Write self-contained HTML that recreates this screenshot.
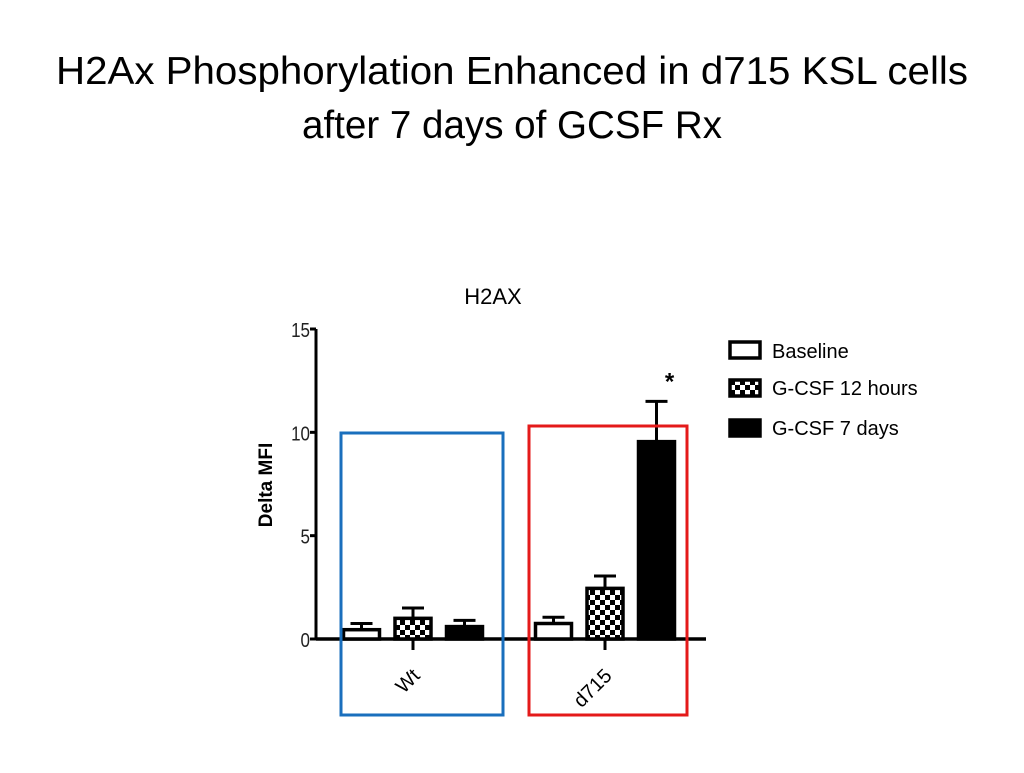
<!DOCTYPE html>
<html><head><meta charset="utf-8"><style>
body{margin:0;background:#fff;}
svg text{font-family:"Liberation Sans",Arial,sans-serif;}
</style></head><body>
<svg width="1024" height="768" viewBox="0 0 1024 768" xmlns="http://www.w3.org/2000/svg">
<defs>
<pattern id="chk" width="10" height="10" patternUnits="userSpaceOnUse">
<rect width="10" height="10" fill="#fff"/><rect width="5" height="5" fill="#000"/><rect x="5" y="5" width="5" height="5" fill="#000"/>
</pattern>
</defs>
<text x="512" y="84" font-size="39" text-anchor="middle" fill="#000" textLength="912" lengthAdjust="spacingAndGlyphs">H2Ax Phosphorylation Enhanced in d715 KSL cells</text>
<text x="512" y="138" font-size="39" text-anchor="middle" fill="#000" textLength="420" lengthAdjust="spacingAndGlyphs">after 7 days of GCSF Rx</text>
<text x="493" y="304" font-size="22" text-anchor="middle">H2AX</text>
<text transform="translate(272,485) rotate(-90)" font-size="19" font-weight="bold" text-anchor="middle">Delta MFI</text>
<g id="axes"></g>
<g id="bars"></g>
<rect x="341" y="433" width="162" height="282" fill="none" stroke="#1a6fbd" stroke-width="3"/>
<rect x="529" y="426" width="158" height="289" fill="none" stroke="#e41a1a" stroke-width="3"/>
<g>
<rect x="730" y="342" width="30" height="16" fill="#fff" stroke="#000" stroke-width="3.5"/>
<text x="772" y="358" font-size="20">Baseline</text>
<rect x="730" y="380" width="30" height="16" fill="url(#chk)" stroke="#000" stroke-width="3.5"/>
<text x="772" y="395" font-size="20">G-CSF 12 hours</text>
<rect x="730" y="420" width="30" height="16" fill="#000" stroke="#000" stroke-width="3.5"/>
<text x="772" y="435" font-size="20">G-CSF 7 days</text>
</g>
</svg>
<script>
const groups = ["Wt", "d715"];
const series = ["Baseline", "G-CSF 12 hours", "G-CSF 7 days"];
const baseline = [0.45, 0.75];
const h12 = [1.0, 2.45];
const d7 = [0.6, 9.55];
const baselineErr = [0.3, 0.3];
const h12Err = [0.5, 0.6];
const d7Err = [0.3, 1.95];
const yTicks = [0, 5, 10, 15];
const sig = ["", "*"];

const NS = "http://www.w3.org/2000/svg";
const X0 = 316, X1 = 706, Y0 = 639, YTOP = 329, YMAX = 15;
const y = v => Y0 - (v / YMAX) * (Y0 - YTOP);
const groupCenter = i => 413 + i * 192;
const barW = 36, barStep = 51.5;
const barX = (g, s) => groupCenter(g) + (s - 1) * barStep - barW / 2;
const fills = ["#fff", "url(#chk)", "#000"];
const vals = [baseline, h12, d7];
const errs = [baselineErr, h12Err, d7Err];

function mk(tag, attrs, parent) {
  const e = document.createElementNS(NS, tag);
  for (const k in attrs) e.setAttribute(k, attrs[k]);
  parent.appendChild(e); return e;
}
const axes = document.getElementById("axes");
const bars = document.getElementById("bars");

const yl = mk("line", {x1: X0, y1: YTOP, x2: X0, y2: Y0, stroke: "#000", "stroke-width": 3}, axes);



yTicks.forEach(t => {
  const tl = mk("line", {x1: X0 - 6, y1: y(t), x2: X0, y2: y(t), stroke: "#000", "stroke-width": 3}, axes);
  
  
  const tx = mk("text", {x: X0 - 6, y: y(t) + 8, "font-size": 20, "text-anchor": "end", fill: "#222", transform: `translate(${X0 - 6},0) scale(0.85,1) translate(${-(X0 - 6)},0)`}, axes);
  tx.textContent = t;
  
  
});

groups.forEach((g, gi) => {
  for (let s = 0; s < 3; s++) {
    const v = vals[s][gi], e = errs[s][gi];
    const cx = barX(gi, s) + barW / 2;
    const el = mk("line", {x1: cx, y1: y(v), x2: cx, y2: y(v + e), stroke: "#000", "stroke-width": 3}, bars);
    
    
    const cap = mk("line", {x1: cx - 11, y1: y(v + e), x2: cx + 11, y2: y(v + e), stroke: "#000", "stroke-width": 3}, bars);
    
    
    const r = mk("rect", {x: barX(gi, s), y: y(v), width: barW, height: Y0 - y(v), fill: fills[s], stroke: "#000", "stroke-width": 3.5}, bars);
    
    
  }
  if (sig[gi]) {
    const st = mk("text", {x: barX(gi, 2) + barW / 2 + 13, y: y(d7[gi] + d7Err[gi]) - 12, "font-size": 24, "font-weight": "bold", "text-anchor": "middle"}, bars);
    st.textContent = sig[gi];
    
    
  }
  const gt = mk("line", {x1: groupCenter(gi), y1: Y0, x2: groupCenter(gi), y2: Y0 + 11, stroke: "#000", "stroke-width": 3}, axes);
  
  
  const lx = groupCenter(gi) + 8, ly = Y0 + 38;
  const lab = mk("text", {x: lx, y: ly, "font-size": 20, "text-anchor": "end", transform: `rotate(-45 ${lx} ${ly})`}, axes);
  lab.textContent = g;
  
  
});

const xl = mk("line", {x1: X0, y1: Y0, x2: X1, y2: Y0, stroke: "#000", "stroke-width": 3.5}, axes);


</script>
</body></html>
